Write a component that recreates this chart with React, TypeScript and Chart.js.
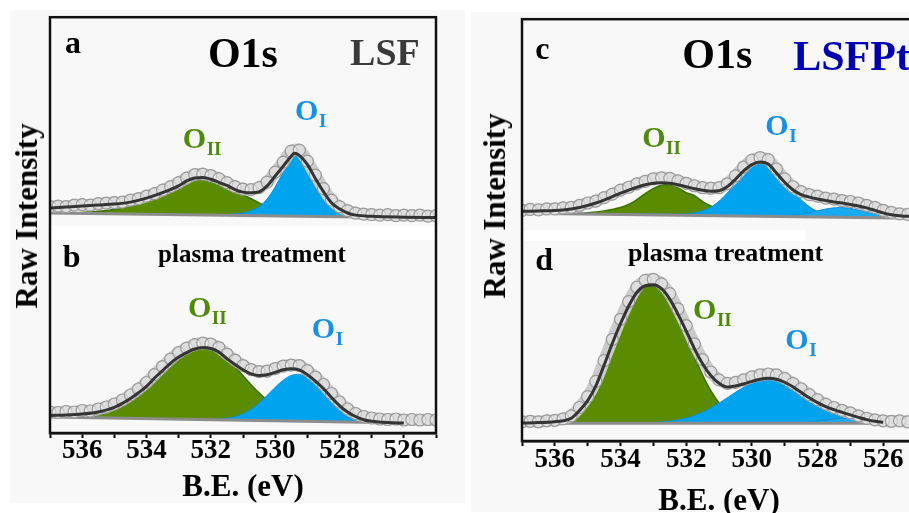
import React, { useEffect, useRef } from 'react';
import { Chart, registerables } from 'chart.js';
Chart.register(...registerables);

type P = [number, number];

const FONT = '"Liberation Serif", "Times New Roman", serif';
const GREEN_TXT = '#4f8a0b';
const BLUE_TXT = '#1890e6';

// x-axis (binding energy, eV)
const xMajorTicks = [536, 534, 532, 530, 528, 526];
const xMinorTicks = [537, 535, 533, 531, 529, 527, 525];

// energies of the raw data points
const rawE = [537, 536.75, 536.5, 536.25, 536, 535.75, 535.5, 535.25, 535, 534.75, 534.5, 534.25, 534, 533.75, 533.5, 533.25, 533, 532.75, 532.5, 532.25, 532, 531.75, 531.5, 531.25, 531, 530.75, 530.5, 530.25, 530, 529.75, 529.5, 529.25, 529, 528.75, 528.5, 528.25, 528, 527.75, 527.5, 527.25, 527, 526.75, 526.5, 526.25, 526, 525.75, 525.5, 525.25, 525];

// ---------- LSF (panel a) ----------
const rawA = [226.5, 227, 226.5, 228, 228.5, 228, 229.5, 230, 230.5, 231, 233, 234.5, 237, 239.5, 243, 246.5, 250.5, 255, 258.5, 259, 257.5, 254.5, 250.5, 246.5, 244, 243.5, 245.5, 251, 261, 271, 282, 283, 272, 258, 244.5, 233, 226.5, 222.5, 220, 219, 218.5, 218, 218.5, 217.5, 218, 217.5, 218, 217, 217.5];
const envA: P[] = [[537, 225], [536.5, 226], [536, 227], [535.5, 228], [535, 229], [534.5, 231], [534, 235], [533.5, 240.5], [533, 247.3], [532.75, 252.2], [532.5, 255.1], [532.25, 255.5], [532, 253.9], [531.75, 250.8], [531.5, 247.7], [531.25, 243.6], [531, 241], [530.75, 240.4], [530.5, 241.3], [530.25, 247.2], [530, 257.1], [529.75, 267], [529.5, 276.9], [529.4, 279.8], [529.25, 277.8], [529, 268.7], [528.75, 254.6], [528.5, 241.5], [528.25, 230.4], [528, 224.3], [527.75, 220.1], [527.5, 218], [527, 216.8], [526, 215.9], [525, 215.5]];
const baseA: P[] = [[537, 220], [525, 215]];
const oiiA: P[] = [[537, 220], [536.5, 220.3], [536, 220.6], [535.5, 221.9], [535, 223.7], [534.5, 226.9], [534, 231.8], [533.5, 238.5], [533, 246.3], [532.75, 251.2], [532.5, 254.6], [532.25, 254.5], [532, 252.9], [531.5, 246.2], [531, 238.5], [530.5, 230.3], [530, 223.1], [529.5, 219.4], [529, 217.7], [528.5, 216.8], [528, 216.3]];
const oiA: P[] = [[536, 219.6], [532, 218.4], [531.5, 218.7], [531, 220], [530.75, 222.4], [530.5, 226.3], [530.25, 234.2], [530, 246.1], [529.75, 261], [529.5, 273.9], [529.4, 277.8], [529.25, 274.8], [529, 265.7], [528.75, 252.6], [528.5, 239.5], [528.25, 228.4], [528, 222.3], [527.75, 218.6], [527.5, 217], [527, 216.1], [526, 215.4], [525, 215]];

// ---------- LSF plasma treated (panel b) ----------
const rawB = [21, 20.5, 21.5, 21, 22.5, 22, 24, 26, 29, 33, 38, 44, 50.5, 58.5, 66.5, 74, 80.5, 85, 88.5, 90, 89, 85.5, 79, 73, 67.5, 63.5, 61.5, 62, 64.5, 67, 68, 67.5, 62.5, 56, 48.5, 39.5, 31, 24, 19.5, 16.5, 15, 14, 13.5, 14, 13, 13.5, 13, 13.5, 13];
const envB: P[] = [[537, 17.5], [536.5, 18], [536, 19], [535.5, 21], [535, 25.7], [534.75, 29.7], [534.5, 34.5], [534.25, 40.2], [534, 46.7], [533.75, 55], [533.5, 62.5], [533.25, 70], [533, 76], [532.75, 80.5], [532.5, 84], [532.25, 85.5], [532, 84.5], [531.75, 81], [531.5, 74.4], [531.25, 68.6], [531, 63.3], [530.75, 59.2], [530.5, 57.5], [530.25, 58.2], [530, 60.6], [529.75, 63.2], [529.5, 64.4], [529.25, 63.1], [529, 58.4], [528.75, 52], [528.5, 44.5], [528.25, 35.5], [528, 27.5], [527.75, 21], [527.5, 16.5], [527.25, 13.3], [527, 11.7], [526.5, 10.4], [526, 10]];
const baseB: P[] = [[537, 16], [525, 9.5]];
const oiiB: P[] = [[537, 16], [536.5, 16.7], [536.2, 17.2], [535.7, 19.1], [535.2, 23.2], [534.7, 30.5], [534.2, 41.5], [533.7, 56], [533.2, 70.5], [532.7, 81.5], [532.2, 85], [531.95, 83.5], [531.7, 79], [531.45, 72.5], [531.2, 64.5], [530.95, 55.5], [530.7, 46.5], [530.45, 38.7], [530.2, 31.7], [529.7, 21.5], [529.2, 15.6], [528.7, 12.9], [528.2, 11.6], [527.5, 10.8]];
const oiB: P[] = [[534, 14.4], [532.5, 13.5], [531.8, 13.8], [531.3, 15.8], [531.05, 18.4], [530.8, 22.5], [530.55, 28.4], [530.3, 35.9], [530.05, 44.1], [529.8, 51.6], [529.55, 56.9], [529.3, 58.8], [529.05, 56.6], [528.8, 51.3], [528.55, 44], [528.3, 36], [528.05, 28.5], [527.8, 22], [527.55, 17.5], [527.3, 14], [526.8, 11.2], [526.3, 10.1], [525.5, 9.8]];

// ---------- LSFPt (panel c) ----------
const rawC = [234, 235, 234.5, 235.5, 235.5, 236.5, 237, 239, 241.5, 243.5, 247, 250.5, 254.5, 257.5, 261, 263.5, 266, 267, 266.5, 264, 261.5, 259, 257, 256.5, 257, 261, 269, 278, 285, 287.5, 285.5, 276, 266, 258, 253, 250, 248.5, 246.5, 245.5, 244, 243, 241.5, 239, 237, 234, 232, 230.5, 230, 229.5];
const envC: P[] = [[537, 233], [536.5, 233.5], [536, 234], [535.75, 234.5], [535.5, 235.5], [535.25, 237], [535, 239], [534.75, 241.5], [534.5, 244.5], [534.25, 248], [534, 251.5], [533.75, 254.5], [533.5, 257.5], [533.25, 260], [533, 261.5], [532.75, 262], [532.5, 261.5], [532.25, 260], [532, 258], [531.75, 256], [531.5, 254.5], [531.25, 253.5], [531, 254], [530.75, 258], [530.5, 265.5], [530.25, 274], [530, 280.5], [529.75, 283], [529.5, 281], [529.25, 272], [529, 262.5], [528.75, 255], [528.5, 250], [528.25, 247.5], [528, 245.5], [527.75, 244], [527.5, 242.5], [527.25, 241.5], [527, 240], [526.75, 238.5], [526.5, 236.5], [526.25, 234], [526, 231.5], [525.75, 229.5], [525.5, 228.5], [525.25, 228], [525, 227.5]];
const baseC: P[] = [[537, 231], [525, 225.9]];
const oiiC: P[] = [[537, 231], [536, 230.6], [535.5, 230.6], [535, 231.5], [534.5, 233.5], [534, 237], [533.75, 240], [533.5, 245], [533.25, 251], [533, 256], [532.8, 259], [532.6, 260], [532.4, 259], [532.2, 256], [532, 252], [531.75, 249], [531.5, 243], [531.25, 238.5], [531, 235], [530.5, 231.5], [530, 229.3], [529.5, 228.2], [529, 227.7], [528.5, 227.4]];
const oiC: P[] = [[537, 231], [536, 231.1], [534, 230.5], [532.5, 230.1], [532, 230.4], [531.7, 231.7], [531.45, 234.1], [531.2, 238.3], [530.95, 244.7], [530.7, 253.3], [530.45, 263.2], [530.2, 272.6], [529.95, 279.4], [529.7, 281.9], [529.45, 279.2], [529.2, 272.1], [528.95, 262.4], [528.7, 252.2], [528.45, 243.3], [528.2, 236.6], [527.95, 232.2], [527.7, 230], [527.2, 227.8], [526.5, 226.9], [525.5, 226.2], [525, 225.9]];
const oi2C: P[] = [[529.3, 227.9], [528.8, 228.8], [528.55, 229.8], [528.3, 231.3], [528.05, 233.2], [527.8, 235], [527.55, 236.4], [527.3, 236.9], [527.05, 236.3], [526.8, 234.7], [526.55, 232.7], [526.3, 230.6], [526.05, 228.9], [525.8, 227.7], [525.3, 226.4]];

// ---------- LSFPt plasma treated (panel d) ----------
const rawD = [19.5, 20, 19.5, 20.5, 21, 22.5, 25.5, 34, 45, 60.5, 81.5, 103, 123.5, 141.5, 156, 163, 164, 159.5, 149.5, 134, 117, 98.5, 82.5, 70, 62, 58.5, 59.5, 62, 65, 67, 68, 67, 63.5, 58.5, 53, 47, 42, 37.5, 34, 31, 28.5, 25.5, 23, 21.5, 20.5, 20, 20.5, 19.5, 20];
const envD: P[] = [[537, 18.2], [536.5, 18.7], [536, 19.6], [535.75, 20.5], [535.5, 23], [535.25, 31], [535, 41], [534.75, 56], [534.5, 77], [534.25, 99], [534, 119], [533.75, 137], [533.5, 151], [533.25, 157.5], [533, 158.5], [532.75, 154.5], [532.5, 144], [532.25, 128.8], [532, 111.8], [531.75, 93.8], [531.5, 78.4], [531.25, 66.4], [531, 58.5], [530.75, 54.8], [530.5, 55.8], [530.25, 57.9], [530, 60.5], [529.75, 62.6], [529.5, 63.6], [529.25, 62.7], [529, 59.6], [528.75, 55], [528.5, 49.4], [528.25, 43.8], [528, 38.9], [527.75, 34.9], [527.5, 31.8], [527.25, 29.1], [527, 26.5], [526.75, 24], [526.5, 21.7], [526.25, 20], [526, 19]];
const baseD: P[] = [[537, 18], [525, 18]];
const oiiD: P[] = [[537, 18], [536, 18.5], [535.75, 19.5], [535.5, 22], [535.25, 30], [535, 40], [534.75, 55], [534.5, 76], [534.25, 98], [534, 118], [533.75, 136], [533.5, 150], [533.25, 156], [533, 157], [532.75, 153], [532.5, 142], [532.25, 126], [532, 107], [531.75, 86], [531.5, 67], [531.25, 51], [531, 38.5], [530.75, 30], [530.5, 24.5], [530.25, 21.5], [530, 19.8], [529.5, 18.6], [529, 18.2], [528.5, 18]];
const oiD: P[] = [[533, 18.7], [532.5, 20.1], [532.2, 21.7], [531.95, 23.7], [531.7, 26.5], [531.45, 30], [531.2, 34.4], [530.95, 39.4], [530.7, 44.9], [530.45, 50.4], [530.2, 55.4], [529.95, 59.4], [529.7, 62.1], [529.45, 63], [529.2, 61.9], [528.95, 58.6], [528.7, 53.7], [528.45, 47.8], [528.2, 41.6], [527.95, 35.8], [527.7, 30.7], [527.45, 26.6], [526.95, 21.4], [526.45, 19.1], [525.95, 18.3], [525.5, 18]];
const oi2D: P[] = [[528.7, 18.2], [528.45, 18.6], [528.2, 19.3], [527.95, 20.3], [527.7, 21.5], [527.45, 22.6], [527.2, 23], [526.95, 22.6], [526.7, 21.5], [526.45, 20.3], [526.2, 19.3], [525.95, 18.6], [525.7, 18.2]];

type Label = { t: string; sub?: string; x: number; y: number; s: number; c: string };

const labelsLeft: Label[] = [
  { t: 'a', x: 536.53, y: 380, s: 32, c: '#000' },
  { t: 'O1s', x: 532.09, y: 366, s: 42, c: '#000' },
  { t: 'LSF', x: 527.67, y: 368, s: 38, c: '#3a3a3a' },
  { t: 'O', sub: 'II', x: 532.87, y: 285, s: 30, c: GREEN_TXT },
  { t: 'O', sub: 'I', x: 529.38, y: 313, s: 30, c: BLUE_TXT },
  { t: 'b', x: 536.6, y: 166, s: 32, c: '#000' },
  { t: 'plasma treatment', x: 533.64, y: 171, s: 25, c: '#000' },
  { t: 'O', sub: 'II', x: 532.71, y: 116, s: 30, c: GREEN_TXT },
  { t: 'O', sub: 'I', x: 528.86, y: 95, s: 30, c: BLUE_TXT },
];
const labelsRight: Label[] = [
  { t: 'c', x: 536.6, y: 388, s: 32, c: '#000' },
  { t: 'O1s', x: 532.12, y: 378, s: 42, c: '#000' },
  { t: 'LSFPt', x: 528.74, y: 376, s: 42, c: '#0000b3' },
  { t: 'O', sub: 'II', x: 533.34, y: 298, s: 30, c: GREEN_TXT },
  { t: 'O', sub: 'I', x: 529.59, y: 311, s: 30, c: BLUE_TXT },
  { t: 'd', x: 536.6, y: 174, s: 32, c: '#000' },
  { t: 'plasma treatment', x: 533.77, y: 183, s: 26, c: '#000' },
  { t: 'O', sub: 'II', x: 531.79, y: 124, s: 30, c: GREEN_TXT },
  { t: 'O', sub: 'I', x: 528.98, y: 93, s: 30, c: BLUE_TXT },
];

const pts = (a: P[]) => a.map(([x, y]) => ({ x, y }));
const rawPts = (ys: number[]) => rawE.map((x, i) => ({ x, y: ys[i] }));

type Panel = { raw: number[]; env: P[]; base: P[]; oii: P[]; oi: P[]; oi2?: P[] };

function buildDatasets(panels: Panel[]) {
  const ds: any[] = [];
  panels.forEach((p) => {
    const bi = ds.length;
    ds.push({ data: pts(p.base), borderColor: '#8c8c8c', borderWidth: 3, pointRadius: 0, fill: false, order: 2, clip: 0 });
    ds.push({ data: pts(p.oii), borderColor: '#3b7400', borderWidth: 1.5, backgroundColor: '#5b8c00', fill: bi, pointRadius: 0, order: 5, cubicInterpolationMode: 'monotone', clip: 0 });
    ds.push({ data: pts(p.oi), borderColor: '#0a8fdc', borderWidth: 1, backgroundColor: '#00a4ee', fill: bi, pointRadius: 0, order: 4, cubicInterpolationMode: 'monotone', clip: 0 });
    if (p.oi2) ds.push({ data: pts(p.oi2), borderColor: '#0a8fdc', borderWidth: 1, backgroundColor: '#18aaf0', fill: bi, pointRadius: 0, order: 3, cubicInterpolationMode: 'monotone', clip: 0 });
    ds.push({ data: rawPts(p.raw), borderColor: '#cbcbcb', borderWidth: 12, pointRadius: 6, pointBorderWidth: 1.2, pointBorderColor: '#9a9a9a', pointBackgroundColor: 'rgba(236,236,236,0.55)', fill: false, order: 1, tension: 0.3, clip: 0 });
    ds.push({ data: pts(p.env), borderColor: '#343434', borderWidth: 3, pointRadius: 0, fill: false, order: 0, cubicInterpolationMode: 'monotone', clip: 0 });
  });
  return ds;
}

const decorPlugin = {
  id: 'decor',
  beforeDatasetsDraw(chart: any, _a: any, opts: any) {
    const { ctx, chartArea, scales } = chart;
    const x = scales.x, y = scales.y;
    ctx.save();
    ctx.fillStyle = '#ffffff';
    const b = opts.band;
    const x1 = chartArea.left;
    const x2 = b.to != null ? x.getPixelForValue(b.to) : chartArea.right;
    const yt = y.getPixelForValue(b.top), yb = y.getPixelForValue(b.bottom);
    ctx.fillRect(x1, yt, x2 - x1, yb - yt);
    ctx.restore();
  },
  afterDatasetsDraw(chart: any, _a: any, opts: any) {
    const { ctx, scales } = chart;
    const x = scales.x, y = scales.y;
    ctx.save();
    ctx.textBaseline = 'alphabetic';
    ctx.textAlign = 'left';
    (opts.labels as Label[]).forEach((l) => {
      const px = x.getPixelForValue(l.x), py = y.getPixelForValue(l.y);
      ctx.font = `bold ${l.s}px ${FONT}`;
      ctx.fillStyle = l.c;
      ctx.fillText(l.t, px, py);
      if (l.sub) {
        const w = ctx.measureText(l.t).width;
        ctx.font = `bold ${Math.round(l.s * 0.63)}px ${FONT}`;
        ctx.fillText(l.sub, px + w + 0.5, py + 7);
      }
    });
    ctx.restore();
  },
  afterDraw(chart: any) {
    const { ctx, chartArea } = chart;
    ctx.save();
    ctx.strokeStyle = '#111';
    ctx.lineWidth = 2.5;
    ctx.strokeRect(chartArea.left, chartArea.top, chartArea.right - chartArea.left, chartArea.bottom - chartArea.top);
    ctx.restore();
  },
};

function makeConfig(panels: Panel[], yMax: number, pad: any, axisH: number, tickPad: number, band: any, labels: Label[]) {
  return {
    type: 'line',
    data: { datasets: buildDatasets(panels) },
    plugins: [decorPlugin],
    options: {
      animation: false,
      responsive: false,
      devicePixelRatio: 1,
      events: [],
      layout: { padding: pad },
      plugins: {
        legend: { display: false },
        tooltip: { enabled: false },
        decor: { band, labels },
      },
      scales: {
        x: {
          type: 'linear',
          reverse: true,
          min: 525,
          max: 537,
          afterFit: (s: any) => { s.height = axisH; },
          afterBuildTicks: (s: any) => {
            s.ticks = [...xMajorTicks, ...xMinorTicks].sort((a, b) => a - b).map((v) => ({ value: v }));
          },
          ticks: {
            autoSkip: false,
            maxRotation: 0,
            padding: tickPad,
            color: '#000',
            font: { family: FONT, size: 27, weight: 'bold', lineHeight: 1 },
            callback: (v: any) => (xMajorTicks.includes(Number(v)) ? String(v) : ''),
          },
          grid: { drawOnChartArea: false, drawTicks: true, tickLength: 5, tickWidth: 2, tickColor: '#000' },
          border: { display: true, color: '#111', width: 2.5 },
          title: {
            display: true,
            text: 'B.E. (eV)',
            color: '#000',
            font: { family: FONT, size: 31, weight: 'bold', lineHeight: 1 },
            padding: 0,
          },
        },
        y: { type: 'linear', display: false, min: 0, max: yMax },
      },
    },
  };
}

function ChartCanvas({ config, w, h, left, top }: any) {
  const ref = useRef<HTMLCanvasElement | null>(null);
  useEffect(() => {
    if (!ref.current) return;
    const c = new Chart(ref.current, config);
    return () => c.destroy();
  }, []);
  return <canvas ref={ref} width={w} height={h} style={{ position: 'absolute', left, top, width: w, height: h }} />;
}

const yTitle: React.CSSProperties = {
  position: 'absolute',
  transform: 'translate(-50%, -50%) rotate(-90deg)',
  font: `bold 31px ${FONT}`,
  whiteSpace: 'nowrap',
  color: '#000',
};

export default function App() {
  const leftCfg = makeConfig(
    [
      { raw: rawA, env: envA, base: baseA, oii: oiiA, oi: oiA },
      { raw: rawB, env: envB, base: baseB, oii: oiiB, oi: oiB },
    ],
    416,
    { left: 40, top: 7, right: 29, bottom: 0 },
    70,
    0,
    { top: 207, bottom: 193 },
    labelsLeft
  );
  const rightCfg = makeConfig(
    [
      { raw: rawC, env: envC, base: baseC, oii: oiiC, oi: oiC, oi2: oi2C },
      { raw: rawD, env: envD, base: baseD, oii: oiiD, oi: oiD, oi2: oi2D },
    ],
    428,
    { left: 51, top: 1, right: 29, bottom: 0 },
    76,
    1,
    { top: 214, bottom: 203, to: 528.37 },
    labelsRight
  );
  return (
    <div style={{ position: 'absolute', left: 0, top: 0, width: 909, height: 513, overflow: 'hidden', background: '#fff' }}>
      <div style={{ position: 'absolute', left: 10, top: 10, width: 455, height: 493, background: '#f8f8f8' }} />
      <div style={{ position: 'absolute', left: 471, top: 12, width: 440, height: 500, background: '#f8f8f8' }} />
      <ChartCanvas config={leftCfg} w={455} h={493} left={10} top={10} />
      <ChartCanvas config={rightCfg} w={474} h={505} left={471} top={12} />
      <div style={{ ...yTitle, left: 27, top: 216 }}>Raw Intensity</div>
      <div style={{ ...yTitle, left: 495, top: 206 }}>Raw Intensity</div>
    </div>
  );
}
